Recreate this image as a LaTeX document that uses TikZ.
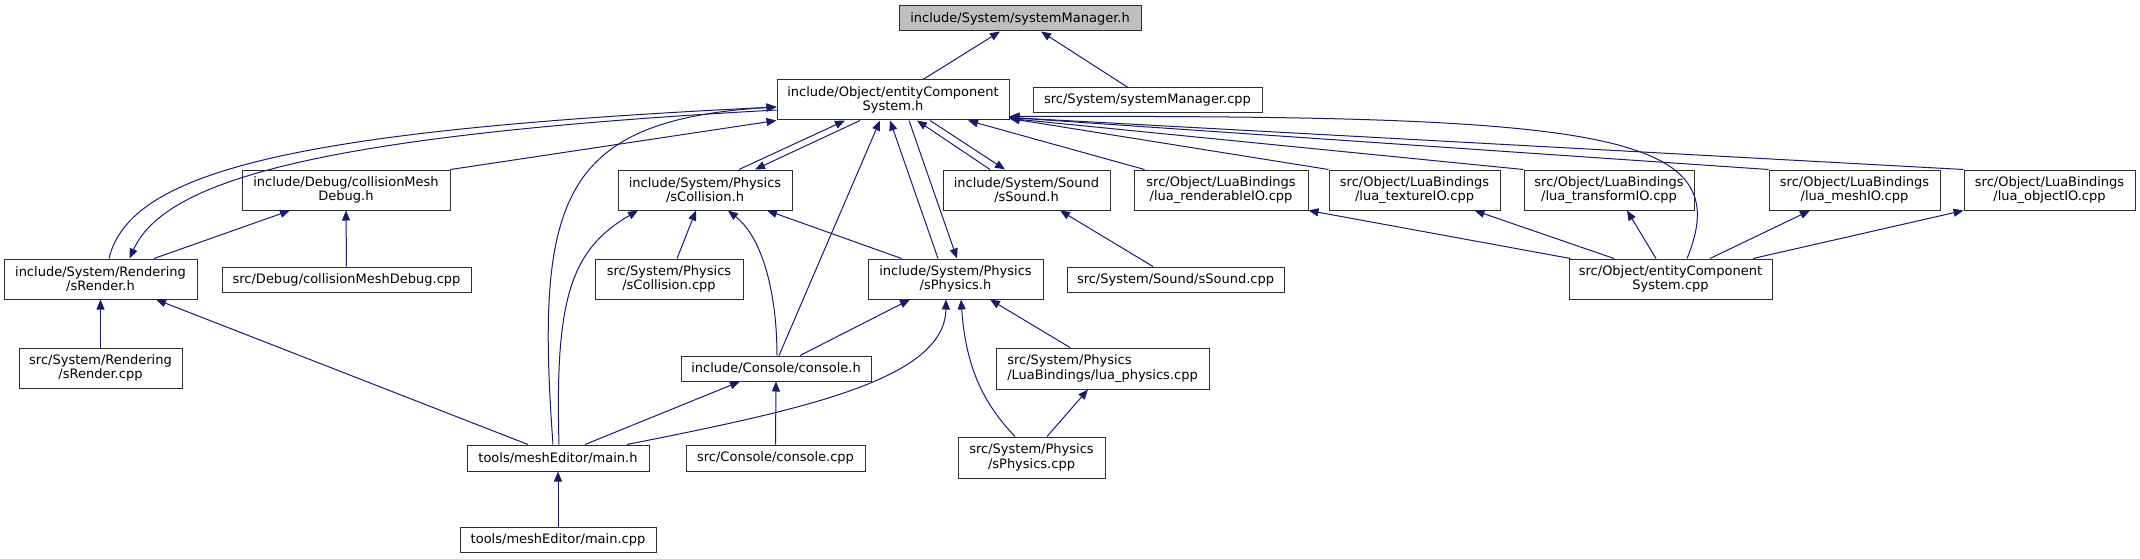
\documentclass[tikz,border=0pt]{standalone}
\usepackage{fontspec}
\setmainfont{DejaVu Sans}
\usetikzlibrary{arrows.meta}
\definecolor{edgeblue}{RGB}{25,25,112}
\definecolor{boxline}{RGB}{45,45,45}
\definecolor{hilite}{RGB}{191,191,191}
\tikzset{
  fbox/.style={draw=boxline, line width=1pt, fill=white, inner sep=0pt, align=center,
    font=\fontsize{13pt}{14.3pt}\selectfont, text=black},
  dep/.style={draw=edgeblue, line width=1pt, -{Triangle[length=10pt,width=8pt]}}
}
\begin{document}
\begin{tikzpicture}[x=1pt,y=-1pt]
\fill[white] (0,0) rectangle (2140,559);
\useasboundingbox (0,0) rectangle (2140,559);
% nodes
\node[fbox, fill=hilite, minimum width=242pt, minimum height=25pt] (smh) at (1020,18.5) {include/System/systemManager.h};
\node[fbox, minimum width=232pt, minimum height=40pt] (ech) at (893,100) {include/Object/entityComponent\\System.h};
\node[fbox, minimum width=229pt, minimum height=25pt] (smc) at (1147.5,100.5) {src/System/systemManager.cpp};
\node[fbox, minimum width=208pt, minimum height=40pt] (cmd) at (346,190) {include/Debug/collisionMesh\\Debug.h};
\node[fbox, minimum width=174pt, minimum height=40pt] (sch) at (705,190) {include/System/Physics\\/sCollision.h};
\node[fbox, minimum width=167pt, minimum height=40pt] (ssh) at (1026.5,190) {include/System/Sound\\/sSound.h};
\node[fbox, minimum width=174pt, minimum height=40pt] (lren) at (1221,190) {src/Object/LuaBindings\\/lua\_renderableIO.cpp};
\node[fbox, minimum width=171pt, minimum height=40pt] (ltex) at (1414.5,190) {src/Object/LuaBindings\\/lua\_textureIO.cpp};
\node[fbox, minimum width=170pt, minimum height=40pt] (ltra) at (1609,190) {src/Object/LuaBindings\\/lua\_transformIO.cpp};
\node[fbox, minimum width=171pt, minimum height=40pt] (lmesh) at (1854.5,190) {src/Object/LuaBindings\\/lua\_meshIO.cpp};
\node[fbox, minimum width=171pt, minimum height=40pt] (lobj) at (2049.5,190) {src/Object/LuaBindings\\/lua\_objectIO.cpp};
\node[fbox, minimum width=193pt, minimum height=40pt] (srh) at (100.5,279) {include/System/Rendering\\/sRender.h};
\node[fbox, minimum width=249pt, minimum height=25pt] (cmdc) at (346.5,279.5) {src/Debug/collisionMeshDebug.cpp};
\node[fbox, minimum width=148pt, minimum height=40pt] (scc) at (669,279) {src/System/Physics\\/sCollision.cpp};
\node[fbox, minimum width=175pt, minimum height=40pt] (sph) at (955.5,279) {include/System/Physics\\/sPhysics.h};
\node[fbox, minimum width=217pt, minimum height=25pt] (ssc) at (1175.5,279.5) {src/System/Sound/sSound.cpp};
\node[fbox, minimum width=203pt, minimum height=40pt] (ecc) at (1670.5,279) {src/Object/entityComponent\\System.cpp};
\node[fbox, minimum width=163pt, minimum height=40pt] (src) at (100.5,368) {src/System/Rendering\\/sRender.cpp};
\node[fbox, minimum width=190pt, minimum height=25pt] (con) at (776,368.5) {include/Console/console.h};
\node[fbox, align=left, minimum width=213pt, minimum height=41pt] (lphy) at (1102.5,368.5) {src/System/Physics\\/LuaBindings/lua\_physics.cpp};
\node[fbox, minimum width=182pt, minimum height=26pt] (mainh) at (558,458) {tools/meshEditor/main.h};
\node[fbox, minimum width=179pt, minimum height=26pt] (conc) at (775.5,458) {src/Console/console.cpp};
\node[fbox, minimum width=147pt, minimum height=41pt] (spc) at (1031.5,457.5) {src/System/Physics\\/sPhysics.cpp};
\node[fbox, minimum width=196pt, minimum height=25pt] (mainc) at (558,539.5) {tools/meshEditor/main.cpp};
% edges
\draw[dep] ([xshift=30pt]ech.north) -- ([xshift=-20pt]smh.south);
\draw[dep] ([xshift=-19.5pt]smc.north) -- ([xshift=21pt]smh.south);
\draw[dep] ([xshift=8.5pt]srh.north) .. controls (130,170) and (300,130) .. ([yshift=-7pt]ech.west);
\draw[dep] ([yshift=-10pt]ech.west) .. controls (320,135) and (165,180) .. ([xshift=29pt]srh.north);
\draw[dep] (cmd.north east) -- (ech.south west);
\draw[dep] ([xshift=34pt]sch.north) -- ([xshift=-48pt]ech.south);
\draw[dep] ([xshift=-33pt]ech.south) -- ([xshift=50pt]sch.north);
\draw[dep] ([xshift=-36.5pt]ssh.north) -- ([xshift=24pt]ech.south);
\draw[dep] ([xshift=37pt]ech.south) -- ([xshift=-21.5pt]ssh.north);
\draw[dep] ([xshift=-17.5pt]sph.north) -- ([xshift=-3pt]ech.south);
\draw[dep] ([xshift=16pt]ech.south) -- ([xshift=1.5pt]sph.north);
\draw[dep] ([xshift=3pt]con.north) -- ([xshift=-13pt]ech.south);
\draw[dep] ([xshift=-5pt]mainh.north) .. controls (535,200) and (560,120) .. ([yshift=-7pt]ech.west);
\draw[dep] ([xshift=11pt]lren.north west) -- ([xshift=75pt]ech.south);
\draw[dep] (ltex.north west) -- ([yshift=2pt]ech.south east);
\draw[dep] (ltra.north west) -- ([yshift=2pt]ech.south east);
\draw[dep] (lmesh.north west) -- ([yshift=3pt]ech.south east);
\draw[dep] (lobj.north west) -- ([yshift=3pt]ech.south east);
\draw[dep] ([xshift=16.5pt]ecc.north) .. controls (1740,130) and (1600,115) .. ([yshift=4pt]ech.south east);
\draw[dep] ([xshift=2pt]ecc.north west) -- (lren.south east);
\draw[dep] ([xshift=-56.5pt]ecc.north) -- ([xshift=60pt]ltex.south);
\draw[dep] ([xshift=-14.5pt]ecc.north) -- ([xshift=18pt]ltra.south);
\draw[dep] ([xshift=39.5pt]ecc.north) -- ([xshift=-44.5pt]lmesh.south);
\draw[dep] ([xshift=82.5pt]ecc.north) -- (lobj.south west);
\draw[dep] ([xshift=53.5pt]srh.north) -- ([xshift=-56pt]cmd.south);
\draw[dep] (cmdc.north) -- (cmd.south);
\draw[dep] (src.north) -- (srh.south);
\draw[dep] ([xshift=-30pt]mainh.north) -- ([xshift=55.5pt]srh.south);
\draw[dep] ([xshift=8pt]scc.north) -- ([xshift=-9pt]sch.south);
\draw[dep] ([xshift=34pt]sph.north west) -- ([xshift=62pt]sch.south);
\draw[dep] ([xshift=1pt]mainh.north) .. controls (555,300) and (570,250) .. ([xshift=-67pt]sch.south);
\draw[dep] ([xshift=1pt]con.north) .. controls (777,300) and (765,240) .. ([xshift=23pt]sch.south);
\draw[dep] ([xshift=-22.5pt]ssc.north) -- ([xshift=33.5pt]ssh.south);
\draw[dep] ([xshift=24pt]con.north) -- ([xshift=-45.5pt]sph.south);
\draw[dep] ([xshift=69pt]mainh.north) .. controls (800,410) and (945,380) .. ([xshift=-9.5pt]sph.south);
\draw[dep] ([xshift=-16.5pt]spc.north) .. controls (985,405) and (966,370) .. ([xshift=5.5pt]sph.south);
\draw[dep] ([xshift=-32.5pt]lphy.north) -- ([xshift=34.5pt]sph.south);
\draw[dep] ([xshift=15.5pt]spc.north) -- ([xshift=-14.5pt]lphy.south);
\draw[dep] ([xshift=27pt]mainh.north) -- ([xshift=-36pt]con.south);
\draw[dep] (conc.north) -- (con.south);
\draw[dep] (mainc.north) -- (mainh.south);
\end{tikzpicture}
\end{document}
